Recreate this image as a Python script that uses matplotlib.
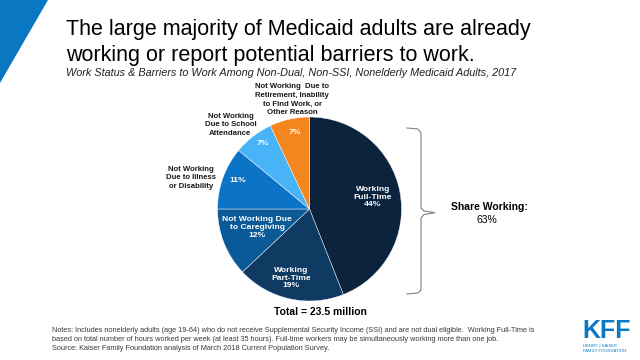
import matplotlib
matplotlib.use("Agg")
import matplotlib.pyplot as plt
from matplotlib.patches import Polygon
from matplotlib.lines import Line2D
import numpy as np

plt.rcParams['font.family'] = ['Liberation Sans', 'DejaVu Sans']

# ---- data ----
categories = ["Working Full-Time", "Working Part-Time", "Not Working Due to Caregiving",
              "Not Working Due to Illness or Disability", "Not Working Due to School Attendance",
              "Not Working Due to Retirement, Inability to Find Work, or Other Reason"]
values = [44, 19, 12, 11, 7, 7]
inside_labels = ["Working\nFull-Time\n44%", "Working\nPart-Time\n19%",
                 "Not Working Due\nto Caregiving\n12%", "11%", "7%", "7%"]
outside_labels = [None, None, None,
                  "Not Working\nDue to Illness\nor Disability",
                  "Not Working\nDue to School\nAttendance",
                  "Not Working  Due to\nRetirement, Inability\nto Find Work, or\nOther Reason"]
colors = ["#0b233d", "#0f3a62", "#0b5a98", "#0b74c6", "#48b3f6", "#f5861f"]
share_working = 63
total_label = "Total = 23.5 million"

# layout (positions in pie data units; radius = 1)
inside_pos = [(0.69, 0.13), (-0.20, -0.75), (-0.57, -0.20), (-0.78, 0.31), (-0.51, 0.71), (-0.16, 0.83)]
outside_pos = [None, None, None, (-1.29, 0.337), (-0.86, 0.915), (-0.19, 1.19)]

W, H = 640, 360
fig = plt.figure(figsize=(6.4, 3.6), dpi=100)

def fx(px):
    return px / W

def fy(py):
    return 1 - py / H

# blue corner triangle
fig.patches.append(Polygon([(fx(0), fy(0)), (fx(48), fy(0)), (fx(0), fy(83))],
                           closed=True, transform=fig.transFigure, facecolor="#0a77c3",
                           edgecolor="none"))

# title / subtitle
fig.text(fx(66), fy(30), "The large majority of Medicaid adults are already",
         fontsize=15.5, va="center", ha="left", color="black")
fig.text(fx(66), fy(55), "working or report potential barriers to work.",
         fontsize=15.5, va="center", ha="left", color="black")
fig.text(fx(66), fy(73), "Work Status & Barriers to Work Among Non-Dual, Non-SSI, Nonelderly Medicaid Adults, 2017",
         fontsize=7.8, style="italic", va="center", ha="left", color="#222222")

# pie
cx, cy, r = 309.5, 209.0, 92.0
ax = fig.add_axes([fx(cx - r), fy(cy + r), 2 * r / W, 2 * r / H])
wedges, _ = ax.pie(values, colors=colors, startangle=90, counterclock=False, radius=1,
                   wedgeprops=dict(edgecolor="white", linewidth=0.3))
ax.set_xlim(-1, 1)
ax.set_ylim(-1, 1)
ax.set_aspect("auto")
ax.axis("off")

for lab, pos, c in zip(inside_labels, inside_pos, colors):
    ax.text(pos[0], pos[1], lab, ha="center", va="center", fontsize=6.1,
            fontweight="bold", color="white", linespacing=1.15)
for lab, pos in zip(outside_labels, outside_pos):
    if lab:
        ax.text(pos[0], pos[1], lab, ha="center", va="center", fontsize=5.6,
                fontweight="bold", color="#1a1a1a", linespacing=1.33, clip_on=False)

# brace
bx = [407, 418, 421, 421, 424, 435, 424, 421, 421, 418, 407]
by = [128, 129, 133, 208, 211, 212.7, 214.5, 218, 290, 293, 294]
fig.lines.append(Line2D([fx(v) for v in bx], [fy(v) for v in by], transform=fig.transFigure,
                        color="#808080", linewidth=0.8))
fig.text(fx(489), fy(207), "Share Working:", ha="center", va="center", fontsize=7.5,
         fontweight="bold", color="black")
fig.text(fx(487), fy(219.5), f"{share_working}%", ha="center", va="center", fontsize=7.5,
         color="black")

# total
fig.text(fx(320), fy(312), total_label, ha="center", va="center", fontsize=7.5,
         fontweight="bold", color="black")

# notes
notes = ("Notes: Includes nonelderly adults (age 19-64) who do not receive Supplemental Security Income (SSI) and are not dual eligible.  Working Full-Time is\n"
         "based on total number of hours worked per week (at least 35 hours). Full-time workers may be simultaneously working more than one job.\n"
         "Source: Kaiser Family Foundation analysis of March 2018 Current Population Survey.")
fig.text(fx(52), fy(339.5), notes, ha="left", va="center", fontsize=5.35, color="#3a3a3a",
         linespacing=1.33)

# KFF logo
fig.text(fx(607), fy(331), "KFF", ha="center", va="center", fontsize=18, fontweight="bold",
         color="#0a78c4")
fig.text(fx(583), fy(346), "HENRY J KAISER", ha="left", va="center", fontsize=3, color="#0a78c4")
fig.text(fx(583), fy(351.5), "FAMILY FOUNDATION", ha="left", va="center", fontsize=3, color="#0a78c4")

fig.savefig("out.png", dpi=100)
